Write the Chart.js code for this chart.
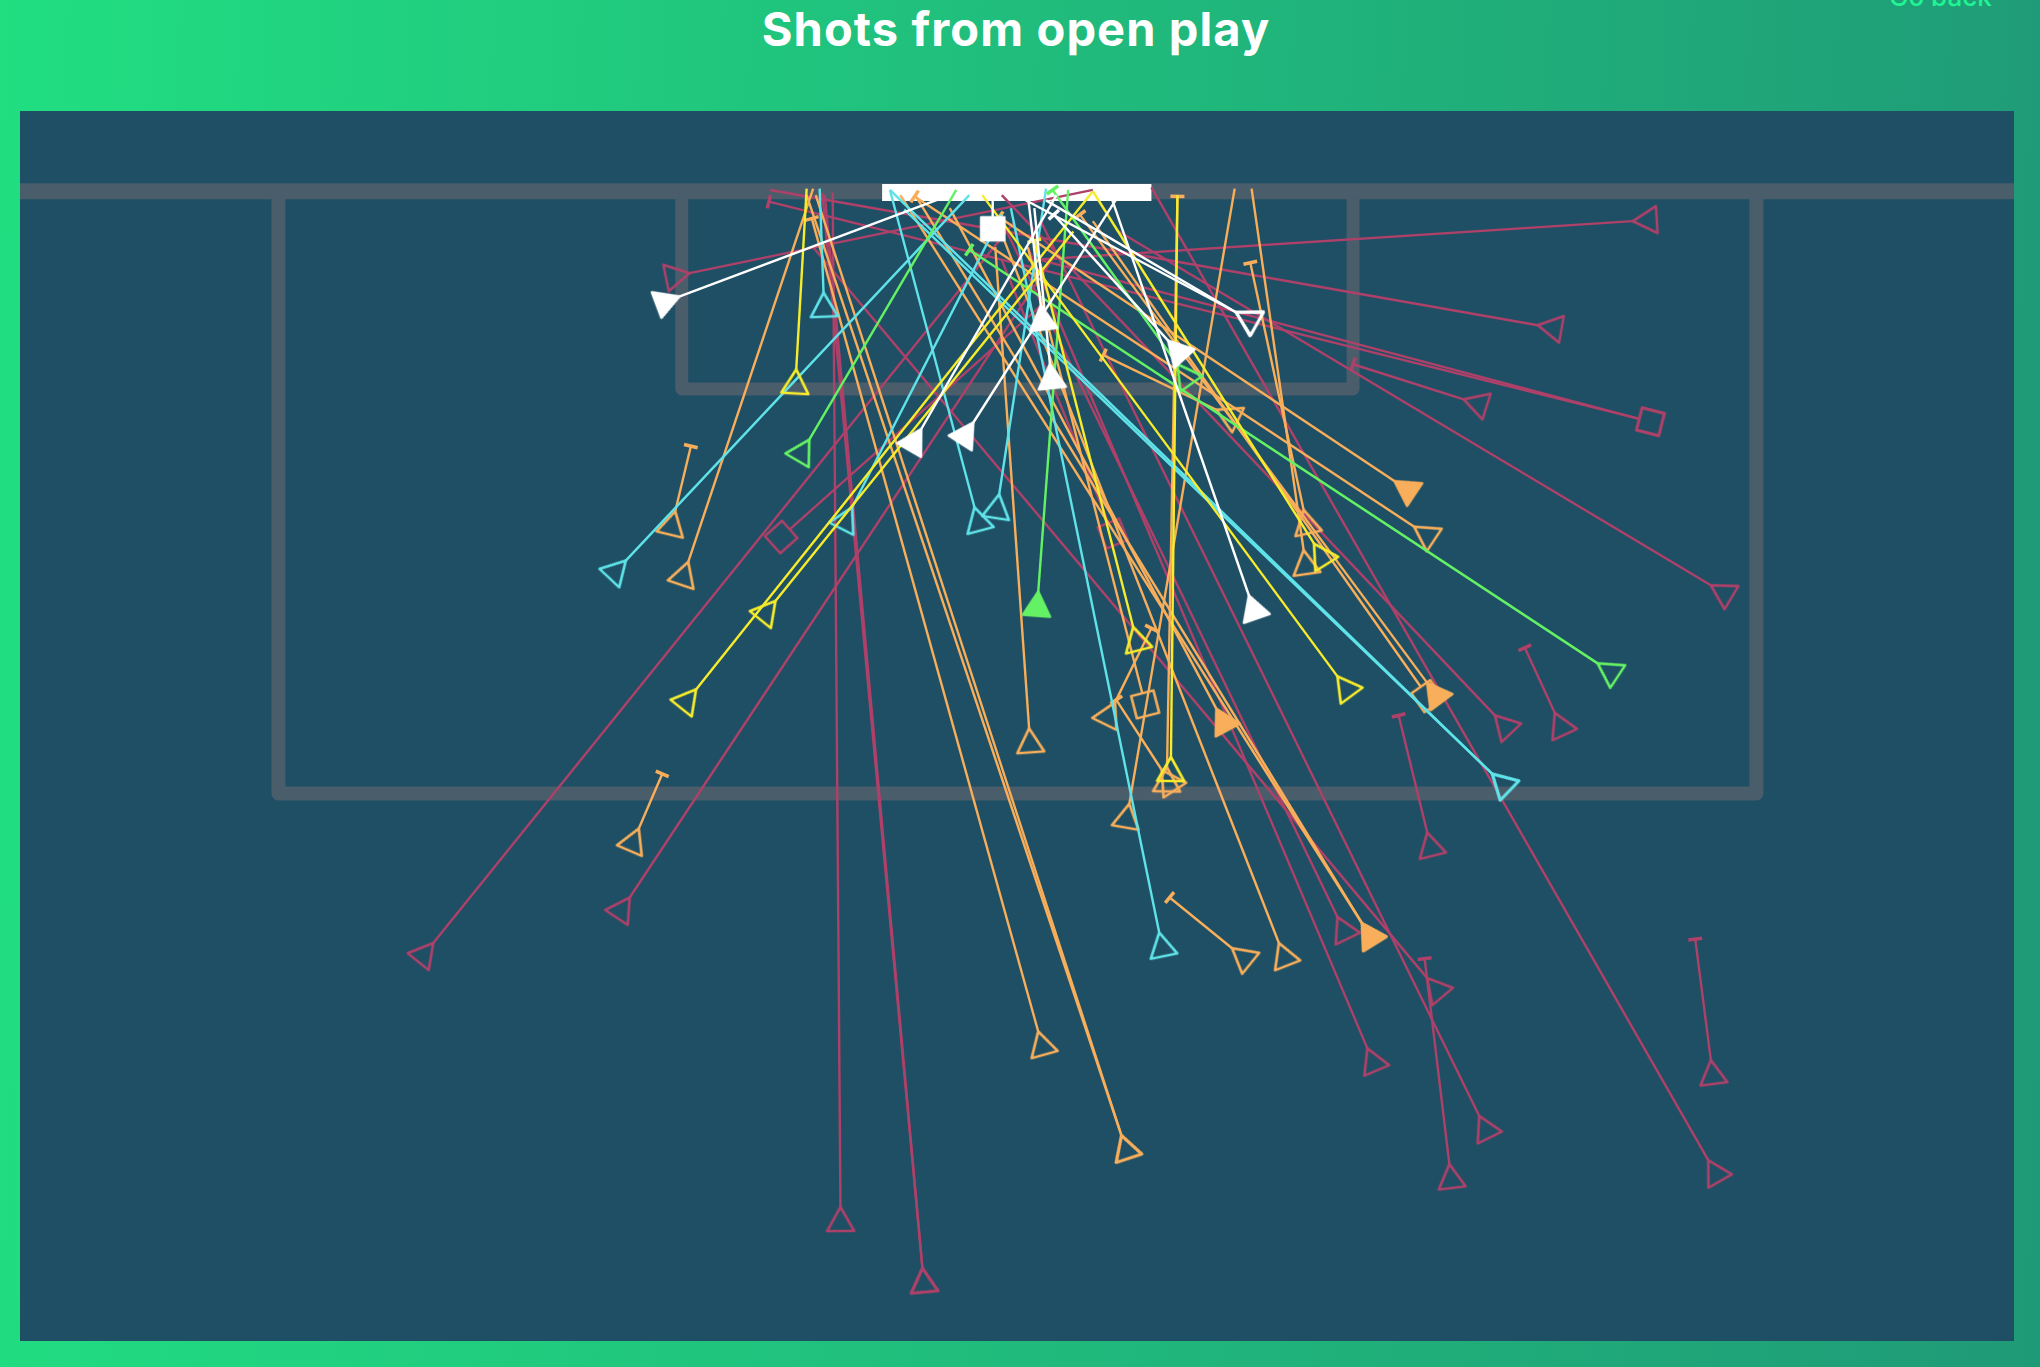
<!DOCTYPE html>
<html><head><meta charset="utf-8">
<script src="https://cdn.jsdelivr.net/npm/chart.js@4"></script>
<style>
html,body{margin:0;padding:0;width:2040px;height:1367px;overflow:hidden;background:linear-gradient(93deg,#21de81 0%,#1f9a77 100%);}
#title{position:absolute;left:0;width:2032px;top:0;text-align:center;color:#fff;font:700 47px Inter,sans-serif;line-height:58px;letter-spacing:1.1px}
#back{position:absolute;left:1889px;top:-19px;color:#1ff593;font:500 26px Inter,sans-serif;line-height:32px}
#panel{position:absolute;left:20px;top:111px;width:1994px;height:1230px;background:#1e4f64}
</style></head><body>
<div id="title">Shots from open play</div>
<div id="back">Go back</div>
<div id="panel"><canvas id="c" width="1994" height="1230"></canvas></div>
<script>
// Pitch outline, in pitch units
const touchLine = [[15,147],[1548,147]];
const penaltyBox = [[214,147],[214,610],[1350,610],[1350,147]];
const sixYardBox = [[524,147],[524,299],[1040,299],[1040,147]];
const goalMouth = [[678,148],[885,148]];

// Each shot: fromX, fromY, toX, toY, origin kind (S open, G scored, Q square), end kind (B blocked)
const crimsonShots = [
 [333,725,780,170,'S',''],[484,690,815,190,'S',''],[646,928,640,148,'S',''],[709,975,632,148,'S',''],
 [709,975,634,150,'S',''],[1051,806,790,190,'S',''],[1114,895,1095,737,'S','B'],[1137,858,800,170,'S',''],[1313,892,885,144,'S',''],
 [1315,815,1303,722,'S','B'],[1097,752,625,190,'S',''],[1028,705,770,170,'S',''],[1097,640,1075,550,'S','B'],
 [1195,548,1172,498,'S','B'],[1149,550,770,150,'S',''],[1315,450,860,178,'S',''],[1260,322,591,155,'Q','B'],
 [1260,322,800,200,'Q',''],[1125,307,1040,280,'S','B'],[1182,250,592,146,'S',''],[1255,170,790,200,'S',''],
 [530,210,840,146,'S',''],[607,407,800,235,'Q',''],[852,402,770,200,'Q','']
];
const orangeShots = [
 [862,873,620,150,'S',''],[798,793,624,168,'S','B'],[791,560,765,190,'S',''],[868,618,949,145,'S',''],
 [1002,423,962,145,'S',''],[1002,392,961,202,'S','B'],[897,590,905,151,'S','B'],[857,540,885,483,'S','B'],
 [893,592,858,538,'S','B'],[878,533,790,190,'Q',''],[935,545,730,160,'G',''],[1047,710,692,150,'G',''],
 [1047,710,704,151,'G',''],[983,725,770,180,'S',''],[947,729,899,690,'S','B'],[1097,525,830,165,'G','B'],
 [1092,528,840,170,'Q',''],[1072,370,768,167,'G','B'],[1087,405,703,151,'S','B'],[935,315,848,273,'S','B'],
 [491,637,509,595,'S','B'],[519,393,531,343,'S','B'],[529,432,625,145,'S',''],[862,873,627,150,'S','']
];
const yellowShots = [
 [900,582,905,150,'S',''],[612,284,620,145,'S',''],[535,530,840,147,'S',''],[596,462,825,178,'S',''],
 [871,482,795,185,'S','B'],[1028,520,755,150,'S',''],[1010,418,840,147,'S','']
];
const cyanShots = [
 [481,431,745,150,'S',''],[633,225,630,145,'S',''],[655,390,770,165,'S',''],[749,390,684,146,'S',''],
 [768,380,804,145,'S',''],[891,717,777,160,'S',''],[1147,595,684,146,'S',''],[1147,595,695,161,'S','']
];
const greenShots = [
 [798,455,821,146,'G',''],[622,338,735,146,'S',''],[1228,510,745,192,'S','B'],[905,280,809,146,'S','B']
];
const whiteShots = [
 [522,228,730,150,'G',''],[950,240,804,154,'S',''],[950,240,783,151,'S',''],[898,262,810,165,'G','B'],
 [708,330,812,150,'G',''],[748,325,860,150,'G',''],[800,235,790,150,'G',''],[807,280,795,160,'G',''],
 [960,458,855,154,'G',''],[763,167,763,150,'Q','']
];

const CRIMSON='#ae4169',ORANGE='#f8ae5a',YELLOW='#f6ec2c',CYAN='#5fe3e8',GREEN='#64f264',WHITE='#ffffff';
const groups=[[crimsonShots,CRIMSON],[orangeShots,ORANGE],[cyanShots,CYAN],[greenShots,GREEN],[yellowShots,YELLOW],[whiteShots,WHITE]];

function marker(kind,color){
  const s=72,c=document.createElement('canvas');c.width=c.height=s;
  const g=c.getContext('2d');g.translate(s/2,s/2);
  g.strokeStyle=color;g.fillStyle=color;g.lineWidth=2.6;g.lineJoin='round';
  g.beginPath();
  if(kind==='Q'){g.rect(-11.5,0,23,23);}
  else{g.moveTo(0,0);g.lineTo(13.5,24);g.lineTo(-13.5,24);g.closePath();}
  if(kind==='G'||color===WHITE&&kind==='Q')g.fill();
  g.stroke();
  return c;
}
const cache={};
const getMarker=(k,col)=>cache[k+col]||(cache[k+col]=marker(k,col));

function line(points,color,width,cap,order){
  return {type:'scatter',showLine:true,order,data:points.map(p=>({x:p[0],y:p[1]})),borderColor:color,borderWidth:width,
    borderCapStyle:cap||'butt',borderJoinStyle:'round',pointRadius:0,tension:0};
}
const PITCH='#4a5d6b';
const datasets=[line(touchLine,PITCH,16,'butt',1000),line(penaltyBox,PITCH,14,'round',1001),line(sixYardBox,PITCH,13,'round',1002),line(goalMouth,'#ffffff',17,'butt',999)];
let seq=900;
groups.forEach(([rows,color])=>rows.forEach(r=>{
  const [x1,y1,x2,y2,k,e]=r;
  const a=Math.atan2(y1-y2,x1-x2)*180/Math.PI;
  datasets.push({type:'scatter',showLine:true,order:seq--,data:[{x:x1,y:y1},{x:x2,y:y2}],borderColor:color,borderWidth:2.4,tension:0,
    pointStyle:[getMarker(k,color),e==='B'?'line':false],
    pointRadius:[10,e==='B'?7:0],
    pointRotation:[a-90,a+90],
    pointBorderColor:color,pointBackgroundColor:color,pointBorderWidth:[0,3.5]});
}));

new Chart(document.getElementById('c'),{
  data:{datasets},
  options:{responsive:false,animation:false,devicePixelRatio:1,
    layout:{padding:0,autoPadding:false},
    plugins:{legend:{display:false},tooltip:{enabled:false},title:{display:false}},
    scales:{x:{type:'linear',display:false,min:15.37,max:1548},y:{type:'linear',display:false,reverse:true,min:85.3,max:1031}}
  }
});
</script>
</body></html>
